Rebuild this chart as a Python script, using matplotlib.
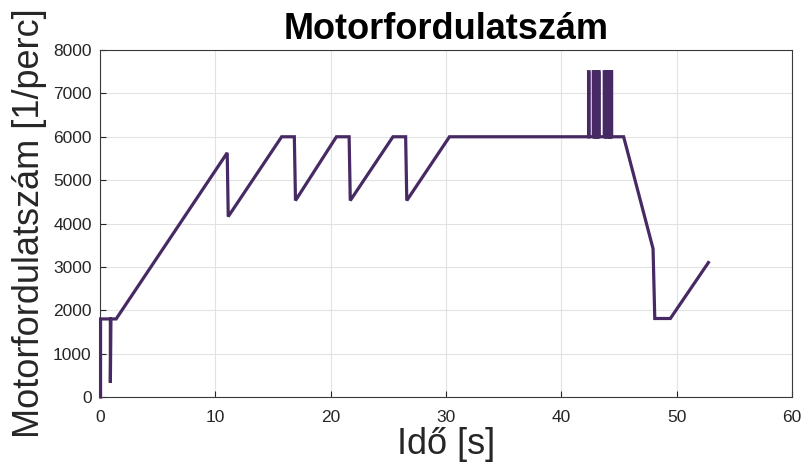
import matplotlib
matplotlib.use("Agg")
import matplotlib.pyplot as plt

# Time [s] and engine speed [1/perc] breakpoints
ido = [0.05, 0.05, 0.9, 0.9, 0.95, 1.4,
       11.03, 11.12, 15.75, 16.85, 16.95, 20.5, 21.6, 21.7, 25.4, 26.5, 26.6, 30.3,
       42.36, 42.36, 42.4, 42.4,
       42.77, 42.77, 42.83, 42.83, 42.88, 42.88, 42.95, 42.95,
       43.0, 43.0, 43.07, 43.07, 43.12, 43.12, 43.2, 43.2, 43.23, 43.23, 43.27, 43.27,
       43.72, 43.72, 43.8, 43.8, 43.85, 43.85, 43.93, 43.93, 43.98, 43.98, 44.05, 44.05,
       44.1, 44.1, 44.18, 44.18, 44.22, 44.22, 44.28, 44.28, 44.32, 44.32, 44.36, 44.36,
       45.4, 47.95, 48.1, 49.45, 52.75]
fordulat = [0, 1800, 1800, 330, 1800, 1800,
            5630, 4160, 6000, 6000, 4530, 6000, 6000, 4530, 6000, 6000, 4530, 6000,
            6000, 7500, 7500, 6000,
            6000, 7500, 7500, 6000, 6000, 7500, 7500, 6000,
            6000, 7500, 7500, 6000, 6000, 7500, 7500, 6000, 6000, 7500, 7500, 6000,
            6000, 7500, 7500, 6000, 6000, 7500, 7500, 6000, 6000, 7500, 7500, 6000,
            6000, 7500, 7500, 6000, 6000, 7500, 7500, 6000, 6000, 7500, 7500, 6000,
            6000, 3420, 1810, 1810, 3100]

xticks = [0, 10, 20, 30, 40, 50, 60]
yticks = [0, 1000, 2000, 3000, 4000, 5000, 6000, 7000, 8000]

plt.rcParams['font.family'] = ['Liberation Sans', 'DejaVu Sans']

fig = plt.figure(figsize=(8.05, 4.75), dpi=100)
ax = fig.add_axes([0.1242, 0.1642, 0.8597, 0.7305])

ax.plot(ido, fordulat, color='#472a63', lw=2.3, solid_joinstyle='miter',
        clip_on=False, zorder=5)

ax.set_xlim(0, 60)
ax.set_ylim(0, 8000)
ax.set_xticks(xticks)
ax.set_yticks(yticks)
ax.tick_params(direction='in', length=4, width=0.8, colors='#262626',
               labelsize=12.5, pad=6, top=False, right=False)
ax.tick_params(axis='x', pad=9)
for s in ax.spines.values():
    s.set_color('#3a3a3a')
    s.set_linewidth(0.8)
    s.set_zorder(1)
ax.grid(True, color='#e2e2e2', lw=0.8)
ax.set_axisbelow(True)

ax.set_title('Motorfordulatszám', fontsize=26, fontweight='bold', pad=8)
ax.set_xlabel('Idő [s]', fontsize=26, color='#262626', labelpad=2)
ax.set_ylabel('Motorfordulatszám [1/perc]', fontsize=26, color='#262626', labelpad=4)

fig.savefig('out.png', dpi=100)
